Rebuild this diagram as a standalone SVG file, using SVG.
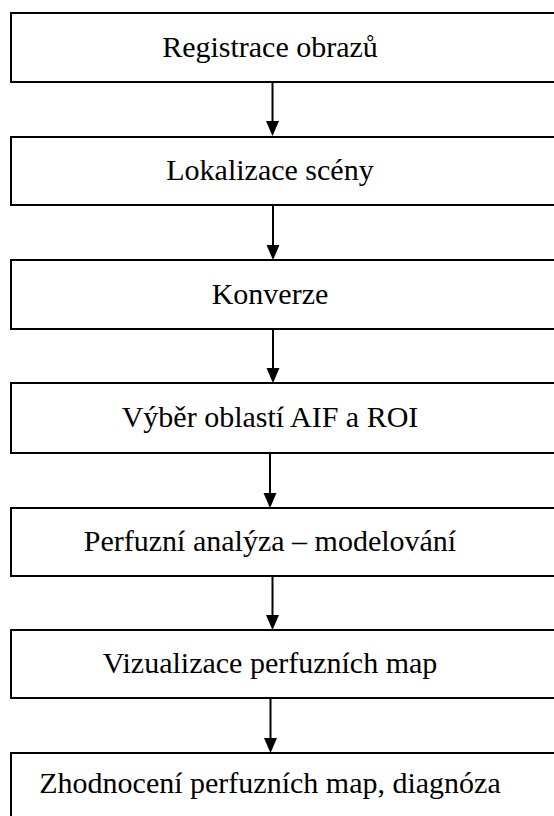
<svg xmlns="http://www.w3.org/2000/svg" width="554" height="816" viewBox="0 0 554 816">
<defs>
<style>
.box{fill:#fff;stroke:#000;stroke-width:2}
.lbl{font-family:"Liberation Serif","Times New Roman",serif;font-size:30px;fill:#000;text-anchor:middle}
.conn{stroke:#000;stroke-width:2;fill:none}
.head{fill:#000}
</style>
</defs>
<rect width="554" height="816" fill="#fff"/>
<g id="n1"><rect class="box" x="11" y="13" width="560" height="69"/><text class="lbl" x="270" y="57">Registrace obrazů</text></g>
<g id="n2"><rect class="box" x="11" y="137" width="560" height="68"/><text class="lbl" x="270" y="180">Lokalizace scény</text></g>
<g id="n3"><rect class="box" x="11" y="260" width="560" height="69"/><text class="lbl" x="270" y="304">Konverze</text></g>
<g id="n4"><rect class="box" x="11" y="383" width="560" height="70"/><text class="lbl" x="270" y="427">Výběr oblastí AIF a ROI</text></g>
<g id="n5"><rect class="box" x="11" y="508" width="560" height="68"/><text class="lbl" x="270" y="551">Perfuzní analýza – modelování</text></g>
<g id="n6"><rect class="box" x="11" y="630" width="560" height="68"/><text class="lbl" x="270" y="673">Vizualizace perfuzních map</text></g>
<g id="n7"><rect class="box" x="11" y="753" width="560" height="70"/><text class="lbl" x="270" y="793">Zhodnocení perfuzních map, diagnóza</text></g>
<g id="connectors">
<line class="conn" x1="272.5" y1="82" x2="272.5" y2="122"/><polygon class="head" points="266,121 279,121 272.5,136"/>
<line class="conn" x1="273" y1="205" x2="273" y2="246"/><polygon class="head" points="266.5,245 279.5,245 273,260"/>
<line class="conn" x1="273" y1="329" x2="273" y2="369"/><polygon class="head" points="266.5,368 279.5,368 273,383"/>
<line class="conn" x1="270" y1="453" x2="270" y2="494"/><polygon class="head" points="263.5,493 276.5,493 270,508"/>
<line class="conn" x1="272.5" y1="576" x2="272.5" y2="616"/><polygon class="head" points="266,615 279,615 272.5,630"/>
<line class="conn" x1="270.5" y1="698" x2="270.5" y2="739"/><polygon class="head" points="264,738 277,738 270.5,753"/>
</g>
</svg>
